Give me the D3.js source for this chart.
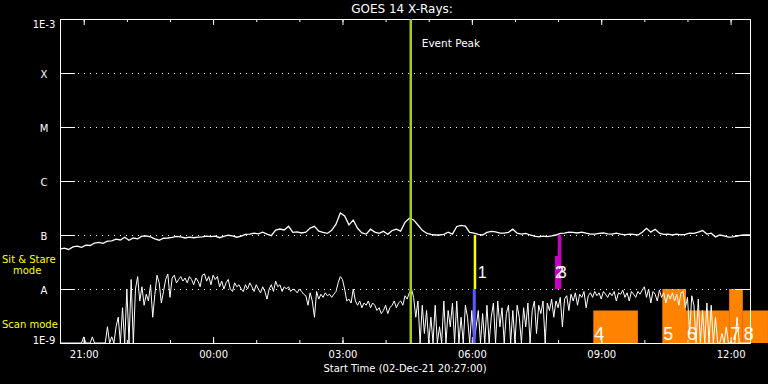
<!DOCTYPE html>
<html>
<head>
<meta charset="utf-8">
<script src="https://cdn.jsdelivr.net/npm/d3@7"></script>
<style>
  body { margin: 0; background: #000; }
  svg { display: block; background: #000; }
  text { font-family: "DejaVu Sans", sans-serif; fill: #fff; }
</style>
</head>
<body>
<svg id="chart" width="768" height="384"></svg>
<script>
// flux in units of 1e-8 W/m^2 (A class); anything under 0.1 is below the plot
const startTime = new Date(2021, 11, 2, 20, 27);
const endTime = new Date(2021, 11, 3, 12, 27);

// 1-8 A channel, one sample every 6 minutes
const longStep = 6;
const longFlux = [
  5.5, 5.7, 5.4, 6.0, 6.2, 5.9, 6.5, 6.4, 7.1, 7.3,
  7.0, 7.7, 7.8, 8.4, 8.1, 9.1, 8.0, 8.8, 8.5, 9.5,
  9.6, 9.2, 8.5, 8.0, 8.7, 8.8, 9.0, 9.4, 9.2, 8.8,
  9.1, 8.9, 9.1, 9.2, 9.5, 9.3, 9.5, 8.9, 9.4, 9.9,
  9.6, 9.1, 9.5, 10.3, 10.4, 10.8, 10.5, 11.3, 10.4, 9.7,
  12.3, 12.9, 12.4, 14.5, 11.2, 11.4, 10.9, 11.3, 13.4, 14.5,
  11.8, 11.2, 10.7, 12.2, 15.9, 25.5, 22.5, 15.4, 18.9, 13.3,
  10.9, 10.4, 12.8, 11.3, 10.7, 11.7, 10.3, 12.1, 12.8, 11.8,
  17.2, 20.5, 19.0, 15.3, 12.2, 10.8, 10.3, 10.0, 10.0, 10.3,
  11.3, 10.4, 14.4, 15.1, 14.6, 11.2, 10.8, 10.3, 10.0, 11.2,
  11.7, 11.4, 10.8, 10.8, 11.2, 12.8, 10.8, 10.4, 10.7, 10.0,
  9.5, 9.2, 9.5, 9.3, 9.6, 10.0, 10.7, 10.8, 11.3, 11.2,
  10.9, 11.3, 10.8, 10.4, 10.4, 10.7, 10.9, 10.5, 10.4, 10.8,
  10.4, 10.1, 10.4, 10.3, 10.0, 11.2, 13.3, 11.3, 12.8, 10.8,
  10.3, 10.4, 10.0, 10.4, 10.1, 10.3, 10.8, 10.7, 11.3, 12.1,
  10.4, 10.8, 9.2, 10.0, 9.6, 9.1, 9.2, 9.5, 9.9, 10.0,
  10.0
];

// 0.5-4 A channel, one sample every 3 minutes
const shortStep = 3;
const shortFlux = [
  0.05, 0.05, 0.05, 0.05, 0.05, 0.05, 0.05, 0.05, 0.05, 0.05,
  0.05, 0.13, 0.05, 0.05, 0.05, 0.13, 0.05, 0.05, 0.05, 0.05,
  0.05, 0.05, 0.2, 0.05, 0.13, 0.05, 0.2, 0.3, 0.05, 0.45,
  0.05, 1.0, 0.08, 1.5, 0.05, 1.0, 1.7, 0.6, 1.1, 0.5,
  0.8, 0.6, 1.2, 0.3, 0.8, 1.8, 1.3, 0.55, 0.9, 1.5,
  1.9, 0.7, 1.6, 1.8, 1.3, 1.5, 1.7, 1.4, 1.6, 1.3,
  1.7, 1.5, 1.2, 1.6, 1.4, 1.1, 1.8, 1.9, 1.4, 1.7,
  1.2, 1.8, 1.5, 1.7, 1.1, 1.4, 1.0, 1.3, 1.5, 1.0,
  0.9, 1.3, 1.1, 1.2, 1.0, 0.9, 1.2, 1.0, 1.3, 1.1,
  0.9, 1.2, 1.0, 0.85, 1.1, 0.9, 0.65, 1.0, 1.2, 0.9,
  1.4, 1.1, 1.2, 0.9, 1.1, 1.0, 1.1, 0.9, 1.0, 0.95,
  0.85, 1.0, 0.9, 0.8, 0.75, 0.5, 0.85, 0.6, 0.3, 0.9,
  0.65, 0.8, 0.7, 0.85, 0.75, 0.8, 0.7, 0.8, 0.9, 1.3,
  1.7, 1.5, 1.0, 0.6, 0.65, 0.55, 1.0, 0.6, 0.5, 0.6,
  0.45, 0.55, 0.5, 0.6, 0.45, 0.55, 0.5, 0.4, 0.45, 0.35,
  0.4, 0.5, 0.35, 0.45, 0.5, 0.6, 0.45, 0.55, 0.6, 0.5,
  0.75, 0.65, 0.85, 1.0, 0.7, 0.3, 0.6, 0.05, 0.5, 0.15,
  0.4, 0.05, 0.3, 0.05, 0.5, 0.1, 0.2, 0.05, 0.6, 0.05,
  0.4, 0.2, 0.55, 0.05, 0.6, 0.1, 0.3, 0.05, 0.5, 0.3,
  0.05, 0.4, 0.05, 0.2, 0.4, 0.05, 0.35, 0.1, 0.5, 0.05,
  0.3, 0.55, 0.05, 0.6, 0.2, 0.45, 0.05, 0.35, 0.5, 0.1,
  0.4, 0.05, 0.5, 0.3, 0.05, 0.45, 0.2, 0.55, 0.05, 0.4,
  0.6, 0.15, 0.5, 0.35, 0.6, 0.05, 0.55, 0.4, 0.65, 0.3,
  0.6, 0.45, 0.7, 0.2, 0.65, 0.75, 0.4, 0.8, 0.6, 0.85,
  0.5, 0.8, 0.7, 0.9, 0.45, 0.75, 0.85, 0.7, 0.9, 0.75,
  0.85, 0.65, 0.9, 0.8, 0.7, 0.85, 0.75, 0.9, 0.6, 0.85,
  0.8, 0.95, 0.7, 0.85, 0.6, 0.9, 0.8, 0.7, 0.9, 0.8,
  0.95, 1.1, 0.7, 1.0, 0.55, 0.9, 0.8, 0.6, 0.95, 0.7,
  0.85, 0.55, 0.8, 0.65, 0.85, 0.6, 0.8, 0.5, 0.85, 0.9,
  0.45, 0.7, 0.15, 0.75, 0.5, 0.05, 0.65, 0.05, 0.4, 0.05,
  0.55, 0.05, 0.5, 0.05, 0.3, 0.05, 0.05, 0.15, 0.05, 0.2,
  0.05, 0.05, 0.1, 0.05, 0.3, 0.05, 0.05, 0.05, 0.05, 0.05,
  0.05
];

const levelValues = [0.1, 1, 10, 100, 1000, 10000, 100000];
const levelLabels = ["1E-9", "A", "B", "C", "M", "X", "1E-3"];

const peakTime = "04:35";

// numbered pointings: the stare ones sit between B and A
const markerNames = ["1", "2", "3"];
const markerTimes = ["06:04", "07:57", "08:01"];
const markerTops = [10, 4.1, 10];
const markerColors = ["#ffff00", "#c800c8", "#c800c8"];
const scanMarkTimes = ["06:04"];

// scan mode blocks
const blockNames = ["4", "5", "6", "7", "8"];
const blockStart = ["08:49", "10:25", "10:58", "11:58", "12:17"];
const blockEnd = ["09:51", "10:58", "11:58", "12:17", "12:52"];
const blockTops = [0.4, 1, 0.4, 1, 0.4];

function atTime(s) {
    let p = s.split(":").map(Number);
    return p[0] >= 20 ? new Date(2021, 11, 2, p[0], p[1]) : new Date(2021, 11, 3, p[0], p[1]);
}

var svg = d3.select("#chart");
var plotLeft = 60, plotRight = 750, plotTop = 19, plotBottom = 343;

var x = d3.scaleTime().domain([startTime, endTime]).range([plotLeft, plotRight]);
var y = d3.scaleLog().domain([0.1, 100000]).range([plotBottom, plotTop]).clamp(true);

// scan blocks (drawn first, data goes on top)
blockNames.forEach(function (name, i) {
    svg.append("rect")
        .attr("x", x(atTime(blockStart[i])))
        .attr("y", y(blockTops[i]))
        .attr("width", x(atTime(blockEnd[i])) - x(atTime(blockStart[i])))
        .attr("height", y(0.1) - y(blockTops[i]))
        .style("fill", "#ff8200");
});

// dotted level lines
svg.append("g")
    .selectAll("line")
    .data(levelValues.slice(1, 6))
    .enter()
    .append("line")
    .attr("x1", plotLeft + 18)
    .attr("x2", plotRight - 16)
    .attr("y1", function (d) { return y(d) + 0.5; })
    .attr("y2", function (d) { return y(d) + 0.5; })
    .style("stroke", "#fff")
    .style("stroke-width", 1)
    .style("stroke-dasharray", "1,5");

// axes
function styleAxis(g) {
    g.selectAll("path, line").style("stroke", "#fff");
    g.selectAll("text").style("fill", "#fff").style("font-size", "10px")
        .style("font-family", "DejaVu Sans");
}

svg.append("g").attr("transform", "translate(0," + plotBottom + ")")
    .call(d3.axisBottom(x).ticks(d3.timeHour.every(1)).tickSizeInner(-3).tickSizeOuter(0).tickFormat(""))
    .call(styleAxis);
svg.append("g").attr("transform", "translate(0," + plotBottom + ")")
    .call(d3.axisBottom(x).ticks(d3.timeHour.every(3)).tickSizeInner(-6).tickSizeOuter(0)
        .tickPadding(8).tickFormat(d3.timeFormat("%H:%M")))
    .call(styleAxis);
svg.append("g").attr("transform", "translate(0," + plotTop + ")")
    .call(d3.axisTop(x).ticks(d3.timeHour.every(1)).tickSizeInner(-3).tickSizeOuter(0).tickFormat(""))
    .call(styleAxis);
svg.append("g").attr("transform", "translate(0," + plotTop + ")")
    .call(d3.axisTop(x).ticks(d3.timeHour.every(3)).tickSizeInner(-6).tickSizeOuter(0).tickFormat(""))
    .call(styleAxis);

var yAxis = svg.append("g").attr("transform", "translate(" + plotLeft + ",0)")
    .call(d3.axisLeft(y).tickValues(levelValues).tickSizeInner(-15).tickSizeOuter(0)
        .tickFormat(function (d, i) { return levelLabels[i]; }))
    .call(styleAxis);
yAxis.selectAll("text")
    .attr("x", -16)
    .attr("dy", function (d, i) { return i == 0 ? "0em" : (i == levelValues.length - 1 ? "0.8em" : "0.4em"); })
    .style("text-anchor", "middle");

svg.append("g").attr("transform", "translate(" + plotRight + ",0)")
    .call(d3.axisRight(y).tickValues(levelValues).tickSizeInner(-15).tickSizeOuter(0).tickFormat(""))
    .call(styleAxis);

// flux curves
var longLine = d3.line()
    .x(function (d, i) { return x(d3.timeMinute.offset(startTime, i * longStep)); })
    .y(function (d) { return y(d); });
var shortLine = d3.line()
    .x(function (d, i) { return x(d3.timeMinute.offset(startTime, i * shortStep)); })
    .y(function (d) { return y(d); });

svg.append("path")
    .datum(shortFlux)
    .attr("d", shortLine)
    .style("fill", "none")
    .style("stroke", "#fff")
    .style("stroke-width", 1);

svg.append("path")
    .datum(longFlux)
    .attr("d", longLine)
    .style("fill", "none")
    .style("stroke", "#fff")
    .style("stroke-width", 1.3);

// event peak
var px = x(atTime(peakTime));
svg.append("line")
    .attr("x1", px).attr("x2", px)
    .attr("y1", plotTop).attr("y2", plotBottom)
    .style("stroke", "#a0d010")
    .style("stroke-width", 2.5);
svg.append("text")
    .attr("x", px + 11)
    .attr("y", 47)
    .style("font-size", "10.5px")
    .text("Event Peak");

// pointing markers
scanMarkTimes.forEach(function (t) {
    svg.append("rect")
        .attr("x", x(atTime(t)) - 2)
        .attr("y", y(1))
        .attr("width", 3)
        .attr("height", y(0.1) - y(1))
        .style("fill", "#5a5aff");
});
markerNames.forEach(function (name, i) {
    let mx = x(atTime(markerTimes[i]));
    svg.append("rect")
        .attr("x", mx - 1)
        .attr("y", y(markerTops[i]))
        .attr("width", i == 0 ? 2.5 : 3.5)
        .attr("height", y(1) - y(markerTops[i]))
        .style("fill", markerColors[i]);
});
markerNames.forEach(function (name, i) {
    let mx = x(atTime(markerTimes[i]));
    svg.append("text")
        .attr("x", mx + (i == 0 ? 3 : -1))
        .attr("y", 278)
        .style("font-family", "Liberation Sans")
        .style("font-size", "16px")
        .text(name);
});

blockNames.forEach(function (name, i) {
    svg.append("text")
        .attr("x", x(atTime(blockStart[i])) + 1)
        .attr("y", 340)
        .style("font-family", "Liberation Sans")
        .style("font-size", "18px")
        .text(name);
});

// titles
svg.append("text")
    .attr("x", 402)
    .attr("y", 13)
    .attr("text-anchor", "middle")
    .style("font-size", "12px")
    .text("GOES 14 X-Rays:");

svg.append("text")
    .attr("x", 405)
    .attr("y", 372)
    .attr("text-anchor", "middle")
    .style("font-size", "10px")
    .text("Start Time (02-Dec-21 20:27:00)");

svg.append("text").attr("x", 2).attr("y", 263)
    .style("fill", "#ffff00").style("font-size", "10px").text("Sit & Stare");
svg.append("text").attr("x", 13).attr("y", 274)
    .style("fill", "#ffff00").style("font-size", "10px").text("mode");
svg.append("text").attr("x", 2).attr("y", 328)
    .style("fill", "#ffff00").style("font-size", "10px").text("Scan mode");
</script>
</body>
</html>
